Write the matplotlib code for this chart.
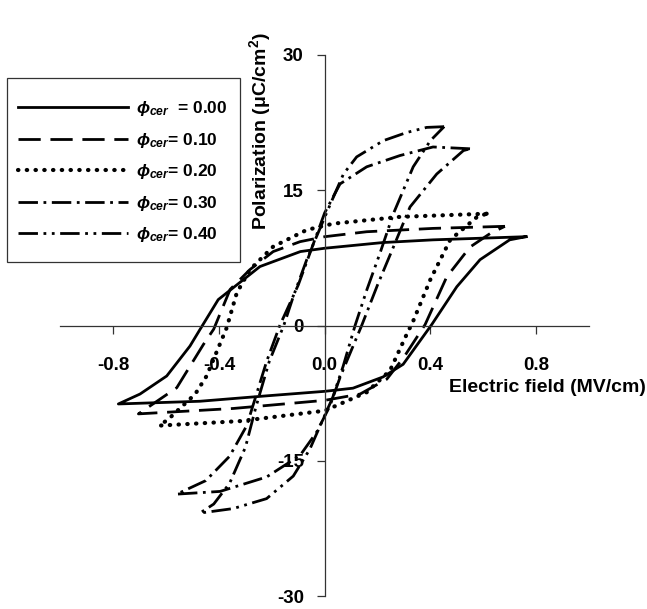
import matplotlib
matplotlib.use("Agg")
import matplotlib.pyplot as plt
from matplotlib.patches import Rectangle

plt.rcParams['font.family'] = ['Liberation Sans', 'DejaVu Sans']
plt.rcParams['mathtext.fontset'] = 'custom'
plt.rcParams['mathtext.it'] = 'Liberation Sans:italic:bold'
plt.rcParams['mathtext.rm'] = 'Liberation Sans:bold'
plt.rcParams['mathtext.bf'] = 'Liberation Sans:bold'

# ---- data (E in MV/cm, P in uC/cm^2); loop = upper branch then lower branch
e_000 = [0.762, 0.41, 0.22, 0.0, -0.092, -0.245, -0.403, -0.472, -0.51, -0.598, -0.699, -0.781,
         -0.472, -0.22, 0.0, 0.107, 0.221, 0.297, 0.405, 0.5, 0.588, 0.70, 0.762]
p_000 = [9.85, 9.5, 9.2, 8.57, 8.2, 6.54, 2.87, -0.44, -2.28, -5.6, -7.6, -8.7,
         -8.4, -7.8, -7.3, -6.95, -5.7, -4.3, 0.1, 4.3, 7.3, 9.5, 9.85]

e_010 = [0.682, 0.41, 0.159, 0.0, -0.093, -0.195, -0.283, -0.358, -0.42, -0.459, -0.56, -0.705,
         -0.346, 0.0, 0.134, 0.235, 0.30, 0.38, 0.462, 0.55, 0.626, 0.682]
p_010 = [11.0, 10.77, 10.4, 9.85, 9.3, 8.2, 6.2, 4.0, -0.4, -2.1, -6.9, -9.8,
         -9.2, -8.3, -7.6, -5.95, -3.5, 0.1, 5.4, 8.7, 10.2, 11.0]

e_020 = [0.613, 0.285, 0.033, -0.068, -0.195, -0.283, -0.333, -0.371, -0.447, -0.49, -0.592, -0.626,
         -0.32, 0.0, 0.159, 0.247, 0.31, 0.335, 0.40, 0.475, 0.575, 0.613]
p_020 = [12.4, 12.05, 11.3, 10.6, 8.75, 6.2, 3.6, -0.25, -5.6, -7.6, -10.4, -11.1,
         -10.6, -9.45, -7.4, -5.0, -1.0, 0.5, 5.1, 9.5, 12.0, 12.4]

e_030 = [0.55, 0.41, 0.285, 0.159, 0.058, 0.0, -0.05, -0.10, -0.17, -0.22, -0.295, -0.36, -0.45, -0.56,
         -0.396, -0.22, -0.093, -0.03, 0.02, 0.06, 0.14, 0.20, 0.26, 0.323, 0.424, 0.525, 0.55]
p_030 = [19.6, 19.8, 18.85, 17.6, 15.7, 12.5, 8.5, 4.5, 0.0, -4.0, -11.1, -14.5, -17.2, -18.7,
         -18.4, -16.8, -14.4, -11.8, -8.9, -5.6, 0.0, 4.5, 8.7, 13.15, 16.8, 19.4, 19.6]

e_040 = [0.452, 0.386, 0.31, 0.222, 0.121, 0.071, 0.033, 0.0, -0.068, -0.119, -0.155, -0.21, -0.26, -0.30, -0.36, -0.42, -0.472,
         -0.346, -0.22, -0.119, -0.056, -0.011, 0.03, 0.07, 0.115, 0.16, 0.209, 0.26, 0.335, 0.40, 0.452]
p_040 = [22.05, 21.97, 21.4, 20.5, 18.7, 16.8, 14.25, 12.0, 7.3, 3.2, 0.0, -4.0, -9.0, -13.5, -17.5, -19.8, -20.8,
         -20.3, -19.2, -16.7, -13.7, -10.7, -8.0, -4.5, 0.0, 4.0, 8.0, 12.4, 17.6, 20.5, 22.05]

labels = [r'$\phi_{cer}$  = 0.00', r'$\phi_{cer}$= 0.10', r'$\phi_{cer}$= 0.20',
          r'$\phi_{cer}$= 0.30', r'$\phi_{cer}$= 0.40']
x_ticks = [-0.8, -0.4, 0.0, 0.4, 0.8]
x_tick_labels = ['-0.8', '-0.4', '0.0', '0.4', '0.8']
y_ticks = [-30, -15, 0, 15, 30]
y_tick_labels = ['-30', '-15', '0', '15', '30']

series = [(e_000, p_000), (e_010, p_010), (e_020, p_020), (e_030, p_030), (e_040, p_040)]
styles = ['-', (0, (8, 3.5)), (0, (0.1, 2.0)), (0, (7, 2, 1, 2)), (0, (7, 2, 1, 2, 1, 2))]
widths = [2.0, 2.0, 3.0, 2.0, 2.0]
caps = ['butt', 'butt', 'round', 'butt', 'butt']

fig = plt.figure(figsize=(6.47, 6.09), dpi=100)
ax = fig.add_axes([0.0935, 0.0213, 0.8167, 0.8884])

for (e, p), ls, lw, cap, lab in zip(series, styles, widths, caps, labels):
    ax.plot(e, p, color='black', lw=lw, linestyle=ls, dash_capstyle=cap, label=lab, clip_on=False)

ax.set_xlim(-1, 1)
ax.set_ylim(-30, 30)
ax.spines['left'].set_position('zero')
ax.spines['bottom'].set_position('zero')
ax.spines['top'].set_visible(False)
ax.spines['right'].set_visible(False)
for s in ('left', 'bottom'):
    ax.spines[s].set_color('#333333')
    ax.spines[s].set_linewidth(0.9)

ax.set_xticks(x_ticks)
ax.set_xticklabels(x_tick_labels, fontsize=13.5, fontweight='bold')
ax.set_yticks(y_ticks)
ax.set_yticklabels(y_tick_labels, fontsize=13.5, fontweight='bold')
ax.tick_params(axis='x', direction='out', length=6, width=0.9, color='#333333', pad=17)
ax.tick_params(axis='y', direction='out', length=6, width=0.9, color='#333333', pad=9)

fig.text(646 / 647, 1 - 388 / 609, 'Electric field (MV/cm)', ha='right', va='center',
         fontsize=14, fontweight='bold')
fig.text(260 / 647, 1 - 131 / 609, r'Polarization ($\mathbf{\mu}$C/cm$^{\mathbf{2}}$)', rotation=90,
         ha='center', va='center', fontsize=14, fontweight='bold')

leg = ax.legend(loc='upper left', bbox_to_anchor=(7 / 647, 1 - 88 / 609),
                bbox_transform=fig.transFigure,
                prop={'weight': 'bold', 'size': 12.5}, frameon=False,
                handlelength=6.3, handletextpad=0.5, labelspacing=0.72,
                borderpad=0.65, borderaxespad=0)

# legend frame
fig.add_artist(Rectangle((7 / 647, 1 - 262 / 609), 233 / 647, 184 / 609,
                         transform=fig.transFigure, fill=False,
                         edgecolor='#333333', linewidth=0.9))

fig.savefig('out.png', dpi=100)
